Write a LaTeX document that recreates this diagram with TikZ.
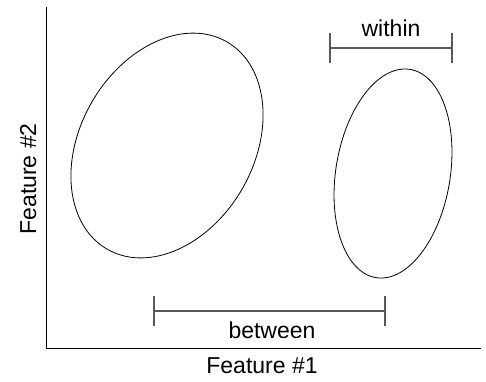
\documentclass[tikz,border=0pt]{standalone}
\usepackage{fontspec}
\setmainfont{Liberation Sans}
\begin{document}
\begin{tikzpicture}[x=1pt,y=-1pt,
  axisline/.style={line width=1pt,black},
  cluster/.style={line width=0.8pt,black},
  spanbar/.style={line width=1.1pt,black!65},
  lbl/.style={inner sep=0pt,anchor=base,font=\fontsize{23}{27}\selectfont}]
\useasboundingbox (0,0) rectangle (486,381);
% axes
\coordinate (origin) at (46,348);
\coordinate (ytop) at (46,7);
\coordinate (xend) at (481,348);
\draw[axisline] (ytop) -- (origin) -- (xend);
% clusters
\draw[cluster,shift={(167,145.5)},rotate=60] (0,0) ellipse (119.7pt and 86.8pt);
\draw[cluster,shift={(393,173.5)},rotate=80.7] (0,0) ellipse (105.5pt and 57.2pt);
% within-class span
\coordinate (wl) at (330,48);
\coordinate (wr) at (452,48);
\draw[spanbar] (wl) -- (wr);
\draw[spanbar] ([yshift=15pt]wl) -- ([yshift=-15pt]wl);
\draw[spanbar] ([yshift=15pt]wr) -- ([yshift=-15pt]wr);
% between-class span
\coordinate (bl) at (154,311);
\coordinate (br) at (385,311);
\draw[spanbar] (bl) -- (br);
\draw[spanbar] ([yshift=15pt]bl) -- ([yshift=-15pt]bl);
\draw[spanbar] ([yshift=15pt]br) -- ([yshift=-15pt]br);
% labels
\node[lbl] (within) at (391,36.5) {within};
\node[lbl] (between) at (272,338) {between};
\node[lbl] (feat1) at (262,373) {Feature \#1};
\node[lbl,rotate=90] (feat2) at (36,179) {Feature \#2};
\end{tikzpicture}
\end{document}
